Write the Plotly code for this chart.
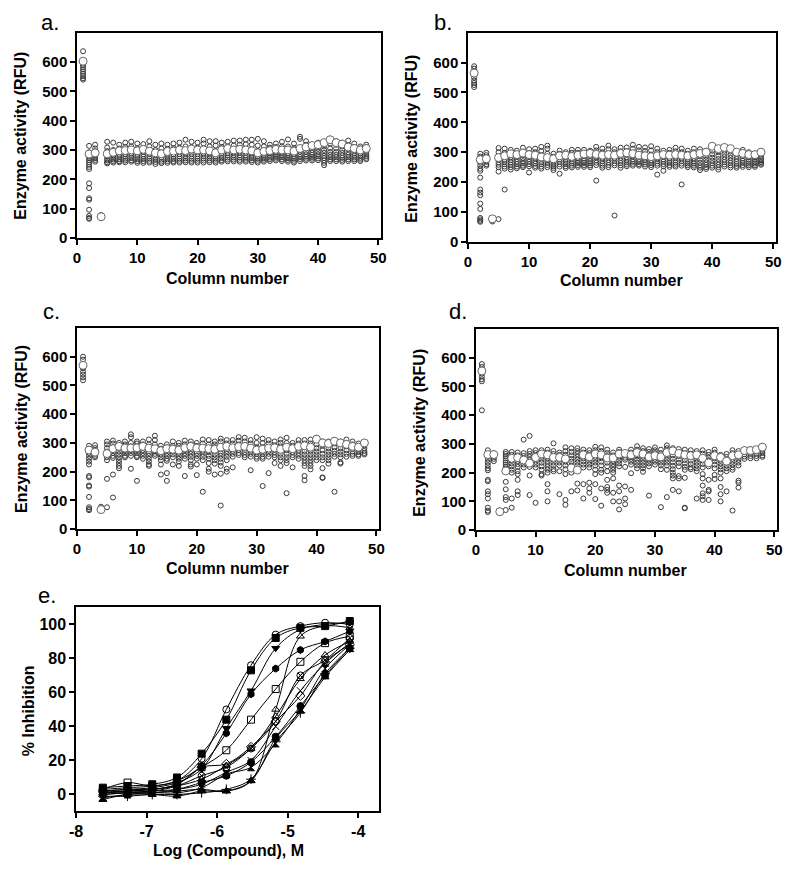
import plotly.graph_objects as go

# column numbers shared by the four plate panels
columns = list(range(1, 49))

# panel a: replicate wells per column, and the large marker per column
reps_a = [
    [637, 590, 582, 575, 568, 560, 552, 545, 540],
    [314, 292, 280, 272, 265, 258, 250, 242, 235, 186, 170, 135, 130, 96, 75, 68, 65],
    [318, 305, 296, 288, 280, 272, 266, 260],
    [78, 72, 69, 67],
    [328, 308, 296, 286, 278, 270, 264, 258, 254],
    [325, 300, 290, 282, 275, 268, 262, 257],
    [318, 305, 292, 284, 276, 268, 262, 258],
    [325, 310, 296, 286, 278, 270, 264, 258],
    [328, 312, 298, 288, 280, 272, 265, 260],
    [322, 305, 292, 284, 276, 268, 262, 256],
    [320, 306, 294, 285, 277, 269, 262, 256],
    [330, 312, 298, 287, 278, 270, 263, 257],
    [318, 300, 290, 281, 273, 266, 259, 252],
    [322, 305, 292, 283, 275, 267, 260, 255],
    [318, 304, 293, 284, 276, 268, 262, 256],
    [322, 306, 295, 285, 277, 269, 262, 257],
    [325, 308, 296, 286, 278, 270, 263, 257],
    [335, 312, 298, 288, 279, 271, 264, 258],
    [328, 310, 298, 287, 278, 270, 263, 257],
    [325, 308, 296, 286, 278, 270, 263, 257],
    [335, 322, 300, 288, 279, 271, 264, 257],
    [330, 312, 298, 288, 279, 271, 264, 258],
    [330, 315, 296, 285, 277, 270, 263, 257],
    [325, 310, 298, 288, 280, 272, 265, 260],
    [328, 312, 300, 290, 282, 274, 267, 261],
    [332, 315, 302, 291, 282, 274, 267, 261],
    [332, 318, 302, 291, 282, 274, 266, 260],
    [335, 320, 302, 290, 281, 273, 266, 260],
    [335, 318, 300, 288, 280, 272, 265, 259],
    [338, 315, 296, 285, 277, 270, 263, 257],
    [330, 312, 298, 288, 280, 272, 266, 260],
    [318, 308, 298, 289, 281, 274, 268, 262],
    [322, 310, 300, 291, 283, 276, 270, 264],
    [328, 312, 300, 290, 282, 275, 268, 262],
    [336, 312, 298, 288, 280, 272, 266, 260],
    [322, 306, 295, 285, 277, 270, 263, 257],
    [345, 338, 308, 294, 284, 276, 269, 262],
    [330, 318, 305, 294, 285, 277, 270, 264],
    [318, 310, 300, 291, 283, 276, 270, 264],
    [325, 315, 304, 294, 285, 278, 271, 265],
    [328, 312, 300, 290, 280, 272, 264, 256, 248],
    [338, 322, 305, 293, 283, 275, 268, 262],
    [330, 318, 305, 293, 283, 275, 268, 262],
    [325, 312, 300, 290, 281, 273, 266, 260],
    [332, 316, 303, 292, 283, 275, 268, 262],
    [322, 310, 298, 289, 281, 274, 268, 262],
    [312, 305, 296, 288, 280, 273, 267, 262],
    [318, 310, 301, 293, 286, 279, 273, 268],
]
big_a = [603, 286, 290, 72, 287, 292, 297, 298, 300, 297, 302, 296, 290, 287, 295, 296,
         300, 298, 303, 300, 300, 297, 290, 300, 305, 300, 302, 300, 297, 290, 295, 298,
         302, 300, 300, 296, 305, 310, 315, 318, 325, 335, 325, 320, 310, 305, 300, 305]

# panel b
reps_b = [
    [588, 580, 560, 550, 540, 532, 525, 518],
    [295, 285, 275, 265, 255, 245, 238, 215, 175, 165, 156, 128, 110, 80, 75, 70, 67],
    [298, 290, 283, 275, 268, 260, 255],
    [80, 72, 68],
    [314, 300, 287, 276, 266, 258, 250, 235, 76],
    [312, 298, 285, 275, 268, 260, 252, 245, 175],
    [308, 295, 283, 274, 266, 258, 250, 242],
    [305, 296, 286, 277, 268, 260, 252, 246],
    [315, 302, 290, 280, 270, 262, 255, 250],
    [310, 298, 287, 277, 268, 260, 253, 232],
    [312, 300, 289, 279, 270, 262, 254, 248],
    [318, 304, 290, 278, 268, 260, 252, 245],
    [322, 312, 295, 282, 272, 264, 257, 250],
    [295, 285, 276, 268, 260, 253, 247, 240],
    [305, 295, 285, 276, 268, 260, 252, 228],
    [300, 292, 283, 275, 267, 260, 253, 247],
    [308, 298, 288, 279, 270, 262, 255, 249],
    [308, 298, 288, 279, 271, 264, 257, 251],
    [308, 298, 288, 279, 271, 264, 257, 251],
    [305, 296, 287, 278, 270, 263, 256, 250],
    [318, 306, 294, 283, 273, 265, 257, 205],
    [312, 300, 289, 279, 270, 262, 255, 248],
    [322, 310, 296, 284, 274, 265, 257, 250],
    [310, 300, 290, 280, 271, 263, 256, 88],
    [315, 303, 291, 281, 272, 264, 256, 248],
    [316, 304, 293, 283, 274, 266, 259, 253],
    [325, 312, 298, 286, 276, 268, 261, 255],
    [318, 306, 294, 284, 275, 267, 260, 255],
    [316, 304, 293, 283, 274, 266, 259, 252],
    [320, 306, 292, 281, 272, 264, 257, 250],
    [312, 300, 289, 279, 270, 262, 255, 225],
    [305, 295, 285, 276, 268, 260, 253, 238],
    [308, 298, 288, 279, 271, 264, 257, 251],
    [315, 303, 292, 282, 273, 265, 258, 252],
    [312, 300, 289, 279, 270, 262, 255, 192],
    [305, 295, 286, 277, 269, 262, 256, 250],
    [312, 300, 289, 279, 270, 262, 255, 249],
    [310, 298, 286, 275, 265, 256, 248, 240],
    [305, 295, 285, 275, 266, 258, 250, 244],
    [318, 305, 293, 282, 272, 263, 255, 248],
    [312, 300, 288, 277, 267, 258, 250, 242],
    [315, 305, 294, 284, 275, 267, 259, 252],
    [312, 302, 291, 281, 272, 264, 256, 249],
    [302, 294, 285, 277, 269, 261, 254, 248],
    [308, 298, 288, 279, 271, 264, 257, 251],
    [300, 292, 284, 276, 269, 262, 256, 250],
    [296, 289, 282, 275, 268, 262, 256, 251],
    [298, 292, 285, 278, 272, 267, 262, 258],
]
big_b = [565, 275, 278, 77, 282, 288, 295, 292, 297, 292, 290, 284, 282, 278, 288, 290,
         286, 290, 294, 296, 293, 290, 292, 290, 296, 298, 295, 290, 288, 285, 288, 292,
         290, 292, 290, 288, 292, 296, 300, 320, 312, 316, 312, 300, 296, 292, 292, 300]

# panel c
reps_c = [
    [600, 590, 560, 548, 538, 528, 518],
    [290, 280, 265, 255, 245, 235, 225, 185, 180, 152, 148, 112, 76, 70, 66],
    [292, 282, 270, 262, 255, 250],
    [78, 72, 68, 65],
    [305, 295, 282, 270, 260, 250, 240, 175, 76],
    [308, 298, 285, 275, 265, 255, 248, 190, 110],
    [300, 290, 280, 270, 260, 250, 240, 230, 220, 212],
    [305, 295, 285, 275, 265, 255, 250],
    [330, 320, 300, 288, 275, 265, 255, 210],
    [305, 298, 288, 275, 265, 255, 250, 168],
    [305, 295, 285, 275, 265, 255, 245],
    [312, 295, 280, 265, 255, 245, 235, 225, 220],
    [325, 310, 295, 282, 270, 262, 255],
    [290, 280, 270, 260, 250, 240, 225, 190],
    [295, 285, 275, 265, 255, 245, 238, 195, 168],
    [305, 290, 280, 270, 260, 250, 225],
    [300, 290, 278, 265, 255, 245, 235, 220],
    [308, 295, 285, 275, 265, 255, 245, 185],
    [305, 295, 285, 272, 262, 252, 240, 225, 218],
    [300, 290, 278, 265, 255, 245, 225, 188],
    [312, 298, 285, 272, 262, 252, 240, 130],
    [310, 295, 280, 268, 255, 245, 230, 210, 200],
    [305, 295, 285, 272, 260, 250, 240, 228, 190],
    [315, 305, 290, 278, 265, 255, 245, 232, 220, 193, 82],
    [310, 298, 285, 272, 262, 252, 240, 210, 200],
    [310, 298, 285, 272, 262, 252, 215],
    [320, 308, 295, 285, 275, 265, 258],
    [318, 305, 292, 280, 268, 258, 250],
    [310, 298, 285, 272, 262, 252, 205],
    [320, 300, 285, 272, 262, 252, 245],
    [315, 300, 285, 272, 262, 252, 245, 150],
    [310, 298, 285, 272, 262, 252, 195],
    [305, 292, 280, 268, 258, 250, 230],
    [312, 300, 288, 275, 262, 250, 240, 220],
    [318, 300, 288, 275, 262, 250, 240, 230, 125],
    [300, 290, 280, 268, 258, 250, 215],
    [310, 298, 288, 275, 265, 255, 245],
    [310, 298, 285, 272, 260, 250, 240, 230, 220, 185, 170],
    [312, 298, 285, 272, 260, 250, 240, 230, 220, 208],
    [318, 310, 295, 282, 270, 260, 250, 240],
    [305, 290, 275, 262, 250, 240, 212, 180, 178],
    [305, 295, 282, 270, 260, 250, 240, 228],
    [310, 298, 285, 272, 262, 252, 130],
    [305, 295, 282, 270, 260, 250, 232, 228],
    [312, 300, 288, 275, 262, 252],
    [305, 295, 282, 270, 262, 255],
    [298, 288, 278, 268, 260, 255],
    [302, 292, 282, 272, 265, 260],
]
big_c = [570, 275, 268, 68, 263, 280, 288, 282, 282, 283, 288, 282, 280, 273, 280, 278,
         275, 283, 288, 282, 282, 280, 278, 285, 288, 283, 287, 288, 282, 275, 278, 282,
         283, 278, 285, 280, 288, 290, 285, 313, 300, 298, 306, 300, 295, 288, 285, 300]

# panel d
reps_d = [
    [578, 568, 555, 545, 535, 525, 518, 417],
    [278, 265, 255, 245, 235, 225, 215, 208, 175, 170, 135, 125, 110, 78, 68, 63],
    [268, 262, 255, 248, 240],
    [68, 64, 61],
    [272, 265, 258, 250, 242, 235, 228, 220, 212, 168, 142, 115, 105, 70],
    [272, 262, 252, 242, 232, 222, 210, 200, 110, 78],
    [270, 260, 250, 240, 230, 220, 205, 195, 175, 135, 122],
    [315, 268, 258, 248, 238, 228, 218],
    [328, 275, 265, 255, 245, 235, 220, 190, 122],
    [278, 268, 258, 248, 238, 228, 218, 95],
    [278, 268, 255, 245, 235, 222, 210, 195, 190],
    [280, 270, 260, 250, 240, 230, 220, 210, 200, 160, 135, 100],
    [302, 275, 265, 255, 245, 235, 225, 212, 205],
    [270, 262, 255, 245, 235, 225, 205, 125],
    [288, 275, 262, 250, 238, 225, 212, 195, 105, 88],
    [285, 272, 260, 248, 238, 225, 212, 200, 135],
    [285, 275, 265, 255, 245, 235, 225, 210, 162, 138],
    [280, 270, 260, 250, 240, 228, 218, 160, 110],
    [278, 268, 258, 248, 238, 228, 218, 165, 145, 130],
    [290, 278, 265, 255, 245, 235, 225, 210, 195, 160, 108],
    [288, 275, 262, 250, 238, 225, 210, 200, 145, 85],
    [280, 268, 258, 248, 235, 222, 205, 175, 150, 140, 130],
    [270, 260, 250, 240, 230, 220, 210, 200, 180, 130, 100],
    [280, 272, 262, 252, 242, 232, 222, 155, 135, 100, 72],
    [268, 260, 252, 245, 220, 152, 110, 90],
    [280, 270, 258, 248, 238, 228, 198, 140],
    [292, 280, 268, 256, 245, 235, 225, 215],
    [285, 275, 265, 255, 245, 235, 225, 215, 203],
    [282, 272, 262, 252, 242, 232, 222, 120],
    [288, 278, 268, 258, 248, 238, 228],
    [280, 268, 256, 245, 235, 225, 212, 80],
    [295, 285, 275, 265, 255, 245, 235, 225, 210, 115],
    [285, 272, 260, 248, 236, 224, 212, 200, 190, 180, 140],
    [282, 270, 258, 246, 234, 222, 188, 180, 135],
    [280, 268, 256, 244, 232, 220, 210, 182, 78, 76],
    [278, 266, 254, 242, 230, 218, 212],
    [275, 265, 255, 245, 235, 225, 215, 205, 110],
    [278, 266, 254, 242, 230, 218, 195, 180, 155, 128, 118, 105],
    [272, 262, 252, 242, 232, 222, 175, 140, 135, 105],
    [280, 270, 260, 250, 240, 228, 215, 192, 178],
    [262, 252, 242, 232, 222, 212, 200, 180, 150, 125, 100],
    [265, 255, 245, 235, 225, 215, 205, 135],
    [278, 268, 258, 248, 238, 228, 218, 210, 68],
    [275, 265, 255, 245, 235, 225, 172, 165, 148],
    [280, 272, 264, 256, 248],
    [282, 274, 266, 258, 250],
    [282, 274, 266, 258, 250],
    [292, 284, 276, 268, 260, 255],
]
big_d = [554, 263, 263, 64, 206, 250, 252, 244, 233, 253, 265, 262, 253, 253, 248, 216,
         209, 262, 255, 265, 262, 251, 251, 265, 267, 262, 270, 265, 255, 259, 255, 270,
         276, 267, 262, 259, 262, 250, 234, 259, 253, 240, 259, 262, 277, 277, 280, 289]

# panel e: dose-response, log molar concentration
log_conc = [-7.62, -7.27, -6.92, -6.57, -6.22, -5.87, -5.52, -5.17, -4.82, -4.47, -4.12]
inhibition = {
    "circle-open":        [3, 4, 5, 8, 21, 50, 76, 94, 99, 101, 100],
    "square":             [4, 5, 6, 10, 24, 44, 73, 92, 98, 99, 102],
    "triangle-down":      [2, 3, 4, 7, 15, 39, 61, 86, 97, 100, 101],
    "hexagon":            [1, 2, 3, 6, 17, 36, 59, 74, 85, 90, 96],
    "square-open":        [3, 7, 5, 8, 16, 26, 44, 62, 78, 89, 93],
    "triangle-up-open":   [1, 1, 1, 2, 3, 2, 8, 50, 93, 99, 98],
    "triangle-up-open2":  [2, 2, 3, 5, 9, 17, 27, 46, 68, 82, 90],
    "circle-x-open":      [1, 2, 2, 5, 11, 16, 27, 43, 70, 79, 92],
    "x-thin-open":        [0, 1, 2, 3, 6, 13, 20, 40, 61, 77, 89],
    "circle":             [0, 1, 1, 3, 7, 11, 19, 34, 52, 70, 86],
    "hourglass":          [-2, 0, 1, 1, 4, 12, 16, 30, 50, 74, 88],
    "cross-thin-open":    [-1, -1, 0, 0, 1, 3, 9, 31, 48, 71, 86],
    "triangle-up":        [-3, 0, 0, -1, 2, 2, 8, 33, 49, 69, 85],
    "diamond-open":       [2, 3, 3, 6, 16, 18, 28, 43, 58, 78, 88],
}

FONT = "Liberation Sans, Arial, sans-serif"
# the page body adds an 8px margin, so the figure is drawn 8px in from the corner
OFF = 8
W, H = 800 - OFF, 871 - OFF

# panel boxes in screen pixels: (left, right, top, bottom)
boxes = {
    "a": (71, 380, 33, 240),
    "b": (468, 781, 33, 244),
    "c": (71, 378, 331, 534),
    "d": (476, 782, 332, 535),
    "e": (70, 378, 613, 819),
}


def px(x, y):
    return (x - OFF) / W, 1 - (y - OFF) / H


def dom(box):
    l, r, t, b = box
    x0, y0 = px(l, b)
    x1, y1 = px(r, t)
    return [x0, x1], [y0, y1]


fig = go.Figure()

panels = [("a", reps_a, big_a), ("b", reps_b, big_b), ("c", reps_c, big_c), ("d", reps_d, big_d)]
for i, (name, reps, big) in enumerate(panels):
    n = "" if i == 0 else str(i + 1)
    xs = [c for c, vals in zip(columns, reps) for v in vals]
    ys = [v for vals in reps for v in vals]
    fig.add_trace(go.Scatter(x=xs, y=ys, mode="markers", xaxis="x" + n, yaxis="y" + n,
                             marker=dict(symbol="circle-open", size=5, color="#3a3a3a",
                                         line=dict(width=1)),
                             showlegend=False))
    fig.add_trace(go.Scatter(x=columns, y=big, mode="markers", xaxis="x" + n, yaxis="y" + n,
                             marker=dict(symbol="circle", size=8, color="white",
                                         line=dict(width=1, color="#666")),
                             showlegend=False))

for sym, vals in inhibition.items():
    s = sym.replace("2", "")
    fig.add_trace(go.Scatter(x=log_conc, y=vals, mode="lines+markers", xaxis="x5", yaxis="y5",
                             line=dict(color="black", width=1, shape="spline"),
                             marker=dict(symbol=s, size=7, color="black",
                                         line=dict(width=1, color="black")),
                             showlegend=False))


def axis_style(size):
    return dict(showline=True, linecolor="black", linewidth=1.5, mirror=True,
                ticks="outside", ticklen=5, tickwidth=1.5, tickcolor="black",
                showgrid=False, zeroline=False,
                tickfont=dict(family=FONT, size=size, color="black", weight="bold"))


layout = dict(width=W, height=H, margin=dict(l=0, r=0, t=0, b=0),
              paper_bgcolor="white", plot_bgcolor="white", font=dict(family=FONT))
for i, name in enumerate(["a", "b", "c", "d", "e"]):
    n = "" if i == 0 else str(i + 1)
    xd, yd = dom(boxes[name])
    if name == "e":
        xa = dict(domain=xd, range=[-8, -3.7], tickvals=[-8, -7, -6, -5, -4],
                  ticktext=["-8", "-7", "-6", "-5", "-4"], anchor="y5", **axis_style(16))
        ya = dict(domain=yd, range=[-10, 110], tickvals=[0, 20, 40, 60, 80, 100],
                  anchor="x5", **axis_style(16))
    else:
        xa = dict(domain=xd, range=[0, 50.5], tickvals=[0, 10, 20, 30, 40, 50],
                  anchor="y" + n, **axis_style(15))
        ya = dict(domain=yd, range=[0, 700], tickvals=[0, 100, 200, 300, 400, 500, 600],
                  anchor="x" + n, **axis_style(15))
    layout["xaxis" + n] = xa
    layout["yaxis" + n] = ya

fig.update_layout(**layout)

title_font = dict(family=FONT, size=16, color="black", weight="bold")
# (text, x px, y px, angle)
titles = [
    ("Enzyme activity (RFU)", 14, 137, -90), ("Column number", 224, 281, 0),
    ("Enzyme activity (RFU)", 411, 140, -90), ("Column number", 624, 283, 0),
    ("Enzyme activity (RFU)", 14, 433, -90), ("Column number", 224, 574, 0),
    ("Enzyme activity (RFU)", 418, 437, -90), ("Column number", 628, 576, 0),
    ("% Inhibition", 22, 717, -90), ("Log (Compound), M", 225, 858, 0),
]
for text, x, y, ang in titles:
    xp, yp = px(x, y)
    fig.add_annotation(text=text, x=xp, y=yp, xref="paper", yref="paper",
                       showarrow=False, textangle=ang, font=title_font,
                       xanchor="center", yanchor="middle")

letters = [("a.", 32, 23), ("b.", 431, 23), ("c.", 34, 314), ("d.", 447, 314), ("e.", 29, 601)]
for text, x, y in letters:
    xp, yp = px(x, y)
    fig.add_annotation(text=text, x=xp, y=yp, xref="paper", yref="paper",
                       showarrow=False, font=dict(family=FONT, size=22, color="black"),
                       xanchor="left", yanchor="middle")

fig.write_html("out.html")
